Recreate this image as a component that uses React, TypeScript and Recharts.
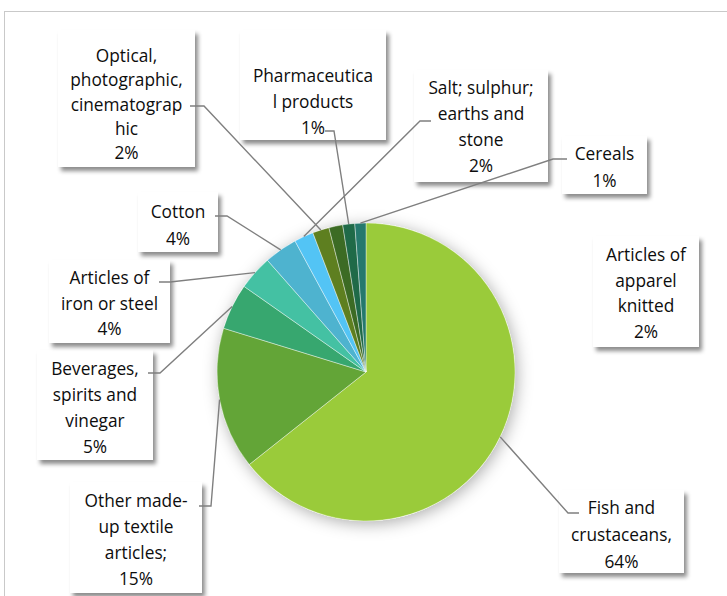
import React from 'react';
import { PieChart, Pie, Cell } from 'recharts';

// ---- data ----
const categories = [
  'Fish and crustaceans',
  'Other made-up textile articles',
  'Beverages, spirits and vinegar',
  'Articles of iron or steel',
  'Cotton',
  'Salt; sulphur; earths and stone',
  'Optical, photographic, cinematographic',
  'Articles of apparel knitted',
  'Pharmaceutical products',
  'Cereals',
];
const shares = [64.3, 15.4, 5.0, 3.75, 3.6, 2.1, 1.8, 1.5, 1.3, 1.2];
const sliceColors = [
  '#9ACB3A', '#63A537', '#37A76F', '#44C1A3', '#4EB3CF',
  '#53C4F5', '#5E7F20', '#3C6B24', '#1F6A48', '#25796D',
];

// ---- label layout (boxes, wrapped lines, leader anchors) ----
type LabelBox = {
  box: [number, number, number, number];
  lines: string[];
  ty: number;
  lh: number;
  anchor?: [number, number];
  elbow?: [number, number];
};
const labelLayout: LabelBox[] = [
  { box: [559, 490, 125, 83], lines: ['Fish and', 'crustaceans,'], ty: 507, lh: 27, anchor: [579, 513], elbow: [568, 513] },
  { box: [70, 482, 132, 111], lines: ['Other made-', 'up textile', 'articles;'], ty: 500, lh: 26, anchor: [199, 506], elbow: [211, 506] },
  { box: [37, 350, 116, 110], lines: ['Beverages,', 'spirits and', 'vinegar'], ty: 368, lh: 26, anchor: [148, 373], elbow: [160, 373] },
  { box: [49, 260, 121, 83], lines: ['Articles of', 'iron or steel'], ty: 277, lh: 25.5, anchor: [159, 282], elbow: [170, 282] },
  { box: [138, 192, 80, 60], lines: ['Cotton'], ty: 211, lh: 27, anchor: [215, 216], elbow: [227, 216] },
  { box: [414, 70, 134, 112], lines: ['Salt; sulphur;', 'earths and', 'stone'], ty: 87, lh: 26, anchor: [431, 121], elbow: [420, 121] },
  { box: [58, 30, 137, 137], lines: ['Optical,', 'photographic,', 'cinematograp', 'hic'], ty: 55, lh: 24.3, anchor: [190, 106], elbow: [204, 106] },
  { box: [593, 236, 106, 111], lines: ['Articles of', 'apparel', 'knitted'], ty: 254, lh: 25.5 },
  { box: [240, 30, 146, 110], lines: ['Pharmaceutica', 'l products'], ty: 75, lh: 26, anchor: [325, 131], elbow: [334, 131] },
  { box: [562, 136, 85, 58], lines: ['Cereals'], ty: 153, lh: 27, anchor: [567, 159], elbow: [553, 159] },
];

const FONT = '"Open Sans", "Noto Sans", sans-serif';
const RAD = Math.PI / 180;

const renderLabel = (props: any) => {
  const { cx, cy, midAngle, outerRadius, index, percent } = props;
  const L = labelLayout[index];
  if (!L) return null;
  const px = cx + outerRadius * Math.cos(-midAngle * RAD);
  const py = cy + outerRadius * Math.sin(-midAngle * RAD);
  const lines = [...L.lines, `${Math.round(percent * 100)}%`];
  const tx = L.box[0] + L.box[2] / 2;
  return (
    <g key={`lbl-${index}`}>
      <rect x={L.box[0]} y={L.box[1]} width={L.box[2]} height={L.box[3]} fill="#ffffff" filter="url(#boxShadow)" />
      <text x={tx} textAnchor="middle" dominantBaseline="central" fontFamily={FONT} fontSize={17.3} fill="#0d0d0d">
        {lines.map((t, i) => (
          <tspan key={i} x={tx} y={L.ty + i * L.lh}>{t}</tspan>
        ))}
      </text>
      {L.anchor && L.elbow && (
        <polyline
          points={`${px},${py} ${L.elbow[0]},${L.elbow[1]} ${L.anchor[0]},${L.anchor[1]}`}
          fill="none"
          stroke="#7f7f7f"
          strokeWidth={1.4}
        />
      )}
    </g>
  );
};

const pieData = categories.map((name, i) => ({ name, value: shares[i] }));
const backing = [{ name: 'bg', value: 1 }];

export default function App() {
  return (
    <div style={{ position: 'absolute', left: 0, top: 0, width: 727, height: 596, background: '#fff', overflow: 'hidden' }}>
      <div
        style={{
          position: 'absolute', left: 4, top: 11, width: 900, height: 900,
          borderTop: '1.5px solid #c9c9c9', borderLeft: '1.5px solid #c9c9c9',
        }}
      />
      <div style={{ position: 'absolute', left: 0, top: 0 }}>
        <PieChart width={727} height={596} margin={{ top: 0, right: 0, bottom: 0, left: 0 }}>
          <defs>
            <filter id="pieShadow" x="-30%" y="-30%" width="160%" height="160%">
              <feDropShadow dx="2" dy="3" stdDeviation="8" floodColor="#000" floodOpacity="0.32" />
            </filter>
            <filter id="boxShadow" x="-20%" y="-20%" width="150%" height="150%">
              <feDropShadow dx="3" dy="4" stdDeviation="2" floodColor="#000" floodOpacity="0.45" />
            </filter>
          </defs>
          <Pie
            data={backing}
            dataKey="value"
            cx={366}
            cy={372}
            outerRadius={149}
            startAngle={90}
            endAngle={-270}
            stroke="none"
            isAnimationActive={false}
          >
            <Cell fill="#ffffff" filter="url(#pieShadow)" />
          </Pie>
          <Pie
            data={pieData}
            dataKey="value"
            nameKey="name"
            cx={366}
            cy={372}
            outerRadius={149}
            startAngle={90}
            endAngle={-270}
            stroke="#ffffff"
            strokeWidth={0.4}
            label={renderLabel}
            labelLine={false}
            isAnimationActive={false}
          >
            {pieData.map((d, i) => (
              <Cell key={d.name} fill={sliceColors[i]} />
            ))}
          </Pie>
        </PieChart>
      </div>
    </div>
  );
}
